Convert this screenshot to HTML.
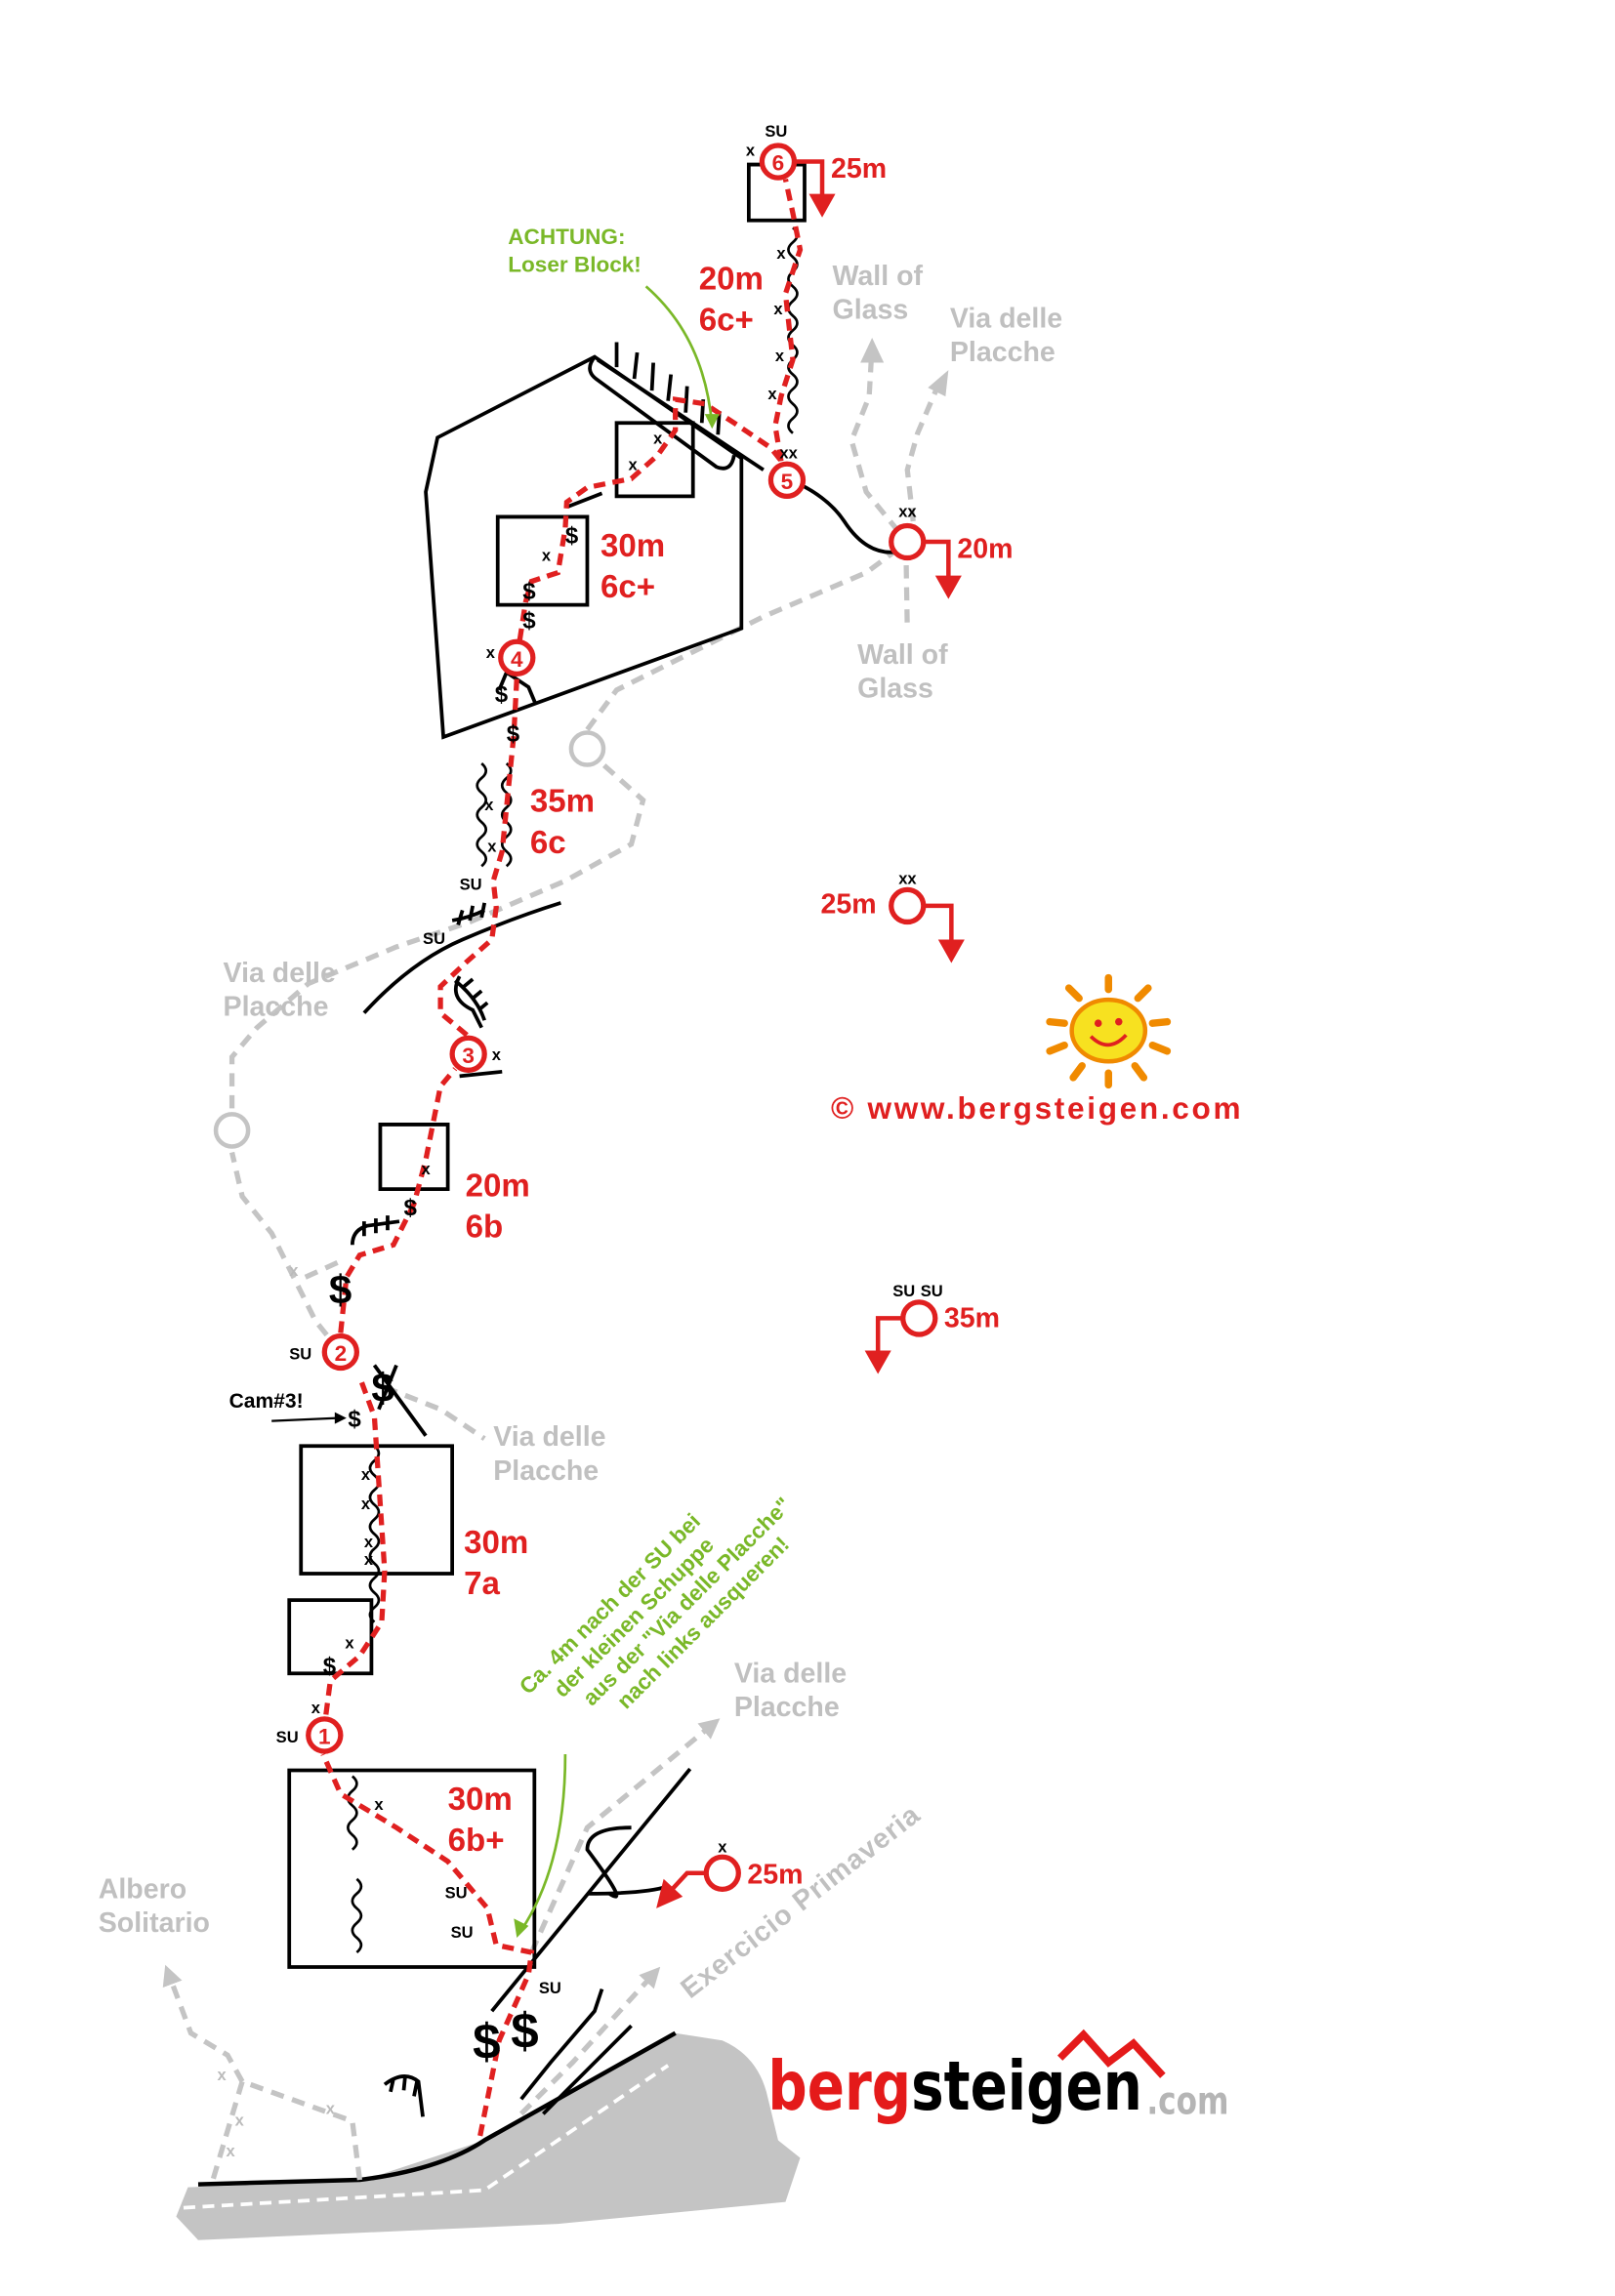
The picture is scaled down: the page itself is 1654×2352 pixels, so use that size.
<!DOCTYPE html>
<html><head><meta charset="utf-8"><style>
html,body{margin:0;padding:0;background:#fff;}
svg{display:block;}
text{font-family:"Liberation Sans",sans-serif;font-weight:bold;}
.r{fill:#e02020;}
.g{fill:#c0c0c0;}
.k{fill:#000;}
</style></head><body>
<svg width="1654" height="2352" viewBox="0 0 1100 1564" xmlns="http://www.w3.org/2000/svg">
<defs>
<marker id="ga" viewBox="0 0 10 10" refX="5" refY="5" markerWidth="4" markerHeight="4" orient="auto"><path d="M0,0 L10,5 L0,10 z" fill="#c4c4c4"/></marker>
</defs>
<!-- ground -->
<path d="M128,1490 L245,1486 L330,1458 L460,1385 L492,1390 Q515,1400 522,1425 L530,1458 L545,1470 L535,1500 L380,1515 L135,1526 L120,1510 Z" fill="#c4c4c4"/>
<path d="M135,1488 L245,1485 Q300,1478 330,1458 L460,1385" fill="none" stroke="#000" stroke-width="3"/>
<path d="M125,1504 L330,1492 L455,1407" fill="none" stroke="#fff" stroke-width="2.5" stroke-dasharray="8,5"/>

<!-- gray dashed routes -->
<g fill="none" stroke="#c4c4c4" stroke-width="3.5" stroke-dasharray="9,6">
<path d="M245,1485 L240,1445 L165,1418 L145,1485"/>
<path d="M165,1418 L155,1400 L130,1385 L115,1345" marker-end="url(#ga)"/>
<path d="M355,1440 L390,1405 L445,1345" marker-end="url(#ga)"/>
<path d="M362,1330 L400,1245 L485,1175" marker-end="url(#ga)"/>
<path d="M232,921 L215,900 L200,870 L185,840 L165,815 L158,785"/>
<path d="M158,755 L158,720 L175,700 L210,670 L270,645 L320,628 L385,600 L430,575 L438,545 L410,520"/>
<path d="M400,497 L420,470 L520,420 L590,390 L617,370"/>
<path d="M617,370 L618,430"/>
<path d="M612,362 L590,335 L580,300 L592,270 L594,235"/>
<path d="M622,355 L618,320 L625,295 L640,260"/>
<path d="M262,945 L300,960 L330,980"/>
<path d="M208,870 L230,860"/>
</g>
<polygon points="594,230 586,247 602,247" fill="#c4c4c4"/>
<polygon points="646,252 632,264 644,270" fill="#c4c4c4"/>
<circle cx="158" cy="770" r="11" fill="#fff" stroke="#c4c4c4" stroke-width="3"/>
<circle cx="400" cy="510" r="11" fill="#fff" stroke="#c4c4c4" stroke-width="3"/>

<!-- black rock features -->
<g fill="none" stroke="#000" stroke-width="2.5">
<path d="M298,298 L405,243 L505,312 L505,428 L302,502 L290,335 Z"/>
<path d="M405,243 Q398,252 406,258 L488,318 Q498,322 500,310 M420,250 L420,233 M432,258 L434,240 M444,266 L445,247 M455,273 L457,255 M467,281 L468,263 M478,288 L479,272 M489,296 L490,280"/>
<path d="M407,245 L520,320 M545,330 Q565,340 575,355 Q590,378 610,376"/>
<path d="M420,288 L472,288 L472,338 L420,338 Z"/>
<path d="M339,352 L400,352 L400,412 L339,412 Z"/>
<path d="M387,345 L410,336"/>
<path d="M510,112 L548,112 L548,150 L510,150 Z"/>
<path d="M259,766 L305,766 L305,810 L259,810 Z"/>
<path d="M205,985 L308,985 L308,1072 L205,1072 Z"/>
<path d="M197,1090 L253,1090 L253,1140 L197,1140 Z"/>
<path d="M197,1206 L364,1206 L364,1340 L197,1340 Z"/>
<path d="M248,690 Q280,655 315,640 Q350,625 382,615"/>
<path d="M313,733 L342,730 M313,665 Q305,680 322,688 L328,700"/>
<path d="M240,848 Q240,838 250,835 L272,832 M248,842 L248,832 M256,840 L256,830 M264,838 L264,828"/>
<path d="M340,470 L345,458 L360,468 L365,480"/>
<path d="M255,930 L290,978 M270,930 L258,960"/>
<path d="M335,1370 L470,1205 M400,1290 Q440,1290 455,1285 M430,1245 Q400,1245 400,1260 Q430,1300 415,1290"/>
<path d="M355,1430 L375,1405 L405,1370 L410,1355 M370,1440 L390,1420 L430,1380"/>
<path d="M262,1420 Q275,1410 285,1418 L288,1442 M268,1416 L266,1425 M276,1414 L275,1424 M284,1418 L282,1428"/>
<path d="M308,627 Q320,625 330,620 M312,630 L315,620 M320,627 L322,617 M328,625 L330,615"/>
<path d="M310,668 Q325,680 330,695 M316,672 L322,667 M322,680 L328,675 M326,688 L332,683"/>
</g>
<!-- wavy lines -->
<g fill="none" stroke="#000" stroke-width="1.8">
<path d="M540,155 q6,5 0,10 t0,10 t0,10 t0,10 t0,10 t0,10 t0,10 t0,10 t0,10 t0,10 t0,10 t0,10 t0,10 t0,10"/>
<path d="M328,520 q6,5 0,10 t0,10 t0,10 t0,10 t0,10 t0,10 t0,10"/>
<path d="M345,520 q6,5 0,10 t0,10 t0,10 t0,10 t0,10 t0,10 t0,10"/>
<path d="M255,985 q6,5 0,10 t0,10 t0,10 t0,10 t0,10 t0,10 t0,10 t0,10 t0,10 t0,10 t0,10 t0,10"/>
<path d="M240,1210 q6,5 0,10 t0,10 t0,10 t0,10 t0,10"/>
<path d="M243,1280 q6,5 0,10 t0,10 t0,10 t0,10 t0,10"/>
</g>

<!-- red route -->
<path d="M327,1455 L340,1390 L360,1345 L362,1330 L338,1325 L332,1300 L305,1268 L270,1245 L232,1222 L220,1195 M222,1168 L225,1145 L245,1128 L260,1105 L262,1070 L258,1010 L255,965 L245,938 M232,908 L236,870 L245,855 L268,848 L282,820 L290,790 L296,760 L300,740 L310,728 M318,705 L300,690 L300,672 L318,655 L335,640 L338,618 L336,600 L342,580 L346,540 L350,500 L352,462 M354,436 L358,410 L362,396 L380,390 L385,360 L386,342 L400,332 L430,326 L448,310 L460,293 L460,272 L480,275 L500,288 L525,305 L533,315 M532,314 L528,290 L532,270 L540,245 L535,200 L545,170 L540,145 L535,122" fill="none" stroke="#e02020" stroke-width="3.5" stroke-dasharray="8,5"/>

<!-- anchors -->
<g fill="#fff" stroke="#e02020" stroke-width="3.5">
<circle cx="221" cy="1182" r="11"/>
<circle cx="232" cy="921" r="11"/>
<circle cx="319" cy="718" r="11"/>
<circle cx="352" cy="448" r="11"/>
<circle cx="536" cy="327" r="11"/>
<circle cx="530" cy="110" r="11"/>
<circle cx="618" cy="369" r="11"/>
<circle cx="618" cy="617" r="11"/>
<circle cx="626" cy="898" r="11"/>
<circle cx="492" cy="1276" r="11"/>
</g>
<g font-size="15" class="r" text-anchor="middle">
<text x="221" y="1188">1</text><text x="232" y="927">2</text><text x="319" y="724">3</text><text x="352" y="454">4</text><text x="536" y="333">5</text><text x="530" y="116">6</text>
</g>
<!-- rappel arrows -->
<g fill="none" stroke="#e02020" stroke-width="3">
<path d="M541,110 L560,110 L560,135"/>
<path d="M629,369 L646,369 L646,395"/>
<path d="M629,617 L648,617 L648,643"/>
<path d="M615,898 L598,898 L598,923"/>
<path d="M481,1276 L468,1276 L455,1290"/>
</g>
<g fill="#e02020">
<polygon points="551,132 569,132 560,148"/>
<polygon points="637,392 655,392 646,408"/>
<polygon points="639,640 657,640 648,656"/>
<polygon points="589,920 607,920 598,936"/>
<polygon points="447,1300 452,1280 465,1292"/>
</g>

<!-- red labels -->
<g class="r" font-size="22">
<text x="566" y="121" font-size="19">25m</text>
<text x="476" y="197">20m</text><text x="476" y="225">6c+</text>
<text x="409" y="379">30m</text><text x="409" y="407">6c+</text>
<text x="652" y="380" font-size="19">20m</text>
<text x="361" y="553">35m</text><text x="361" y="581">6c</text>
<text x="559" y="622" font-size="19">25m</text>
<text x="317" y="815">20m</text><text x="317" y="843">6b</text>
<text x="643" y="904" font-size="19">35m</text>
<text x="316" y="1058">30m</text><text x="316" y="1086">7a</text>
<text x="305" y="1233">30m</text><text x="305" y="1261">6b+</text>
<text x="509" y="1283" font-size="19">25m</text>
<text x="566" y="762" font-size="21" textLength="279" lengthAdjust="spacing">©  www.bergsteigen.com</text>
</g>
<!-- gray labels -->
<g class="g" font-size="19">
<text x="567" y="194">Wall of</text><text x="567" y="217">Glass</text>
<text x="647" y="223">Via delle</text><text x="647" y="246">Placche</text>
<text x="584" y="452">Wall of</text><text x="584" y="475">Glass</text>
<text x="152" y="669">Via delle</text><text x="152" y="692">Placche</text>
<text x="336" y="985">Via delle</text><text x="336" y="1008">Placche</text>
<text x="500" y="1146">Via delle</text><text x="500" y="1169">Placche</text>
<text x="67" y="1293">Albero</text><text x="67" y="1316">Solitario</text>
<text x="470" y="1362" transform="rotate(-38 470 1362)" textLength="200">Exercicio Primaveria</text>
</g>
<!-- green -->
<g fill="#7ab828" font-size="15">
<text x="346" y="166">ACHTUNG:</text><text x="346" y="185">Loser Block!</text>
<g transform="rotate(-45 360 1155)">
<text x="360" y="1155">Ca. 4m nach der SU bei</text>
<text x="375" y="1173">der kleinen Schuppe</text>
<text x="385" y="1191">aus der "Via delle Placche"</text>
<text x="400" y="1209">nach links ausqueren!</text>
</g>
</g>
<path d="M440,195 Q480,230 485,290" fill="none" stroke="#7ab828" stroke-width="1.8"/>
<path d="M385,1195 Q385,1270 355,1315" fill="none" stroke="#7ab828" stroke-width="1.8"/>
<polygon points="480,282 490,282 485,292" fill="#7ab828"/>
<polygon points="350,1307 360,1312 352,1320" fill="#7ab828"/>

<!-- black small labels -->
<g class="k" font-size="11">
<text x="521" y="93">SU</text><text x="508" y="106">x</text>
<text x="529" y="176">x</text><text x="527" y="214">x</text><text x="528" y="246">x</text><text x="523" y="272">x</text>
<text x="531" y="312">xx</text><text x="612" y="352">xx</text><text x="612" y="602">xx</text>
<text x="445" y="302">x</text><text x="428" y="320">x</text><text x="369" y="382">x</text>
<text x="331" y="448">x</text><text x="330" y="552">x</text><text x="332" y="580">x</text>
<text x="313" y="606">SU</text><text x="288" y="643">SU</text>
<text x="335" y="722">x</text><text x="287" y="800">x</text><text x="197" y="869" fill="#bbb">x</text>
<text x="197" y="926">SU</text>
<text x="246" y="1008">x</text><text x="246" y="1028">x</text><text x="248" y="1054">x</text><text x="248" y="1066">x</text>
<text x="235" y="1123">x</text><text x="212" y="1167">x</text><text x="188" y="1187">SU</text>
<text x="255" y="1233">x</text><text x="303" y="1293">SU</text><text x="307" y="1320">SU</text>
<text x="367" y="1358">SU</text><text x="489" y="1262">x</text>
<text x="608" y="883">SU</text><text x="627" y="883">SU</text>
<text x="156" y="959" font-size="14">Cam#3!</text>
</g>
<g fill="#bbb" font-size="11"><text x="148" y="1417">x</text><text x="160" y="1448">x</text><text x="154" y="1469">x</text><text x="222" y="1440">x</text></g>
<path d="M185,968 L230,966" stroke="#000" stroke-width="1.5"/><polygon points="228,962 236,966 228,970"/>
<g font-size="16" class="k" style="font-weight:normal">
<text x="237" y="972">$</text><text x="337" y="478">$</text><text x="345" y="505">$</text>
<text x="356" y="408">$</text><text x="356" y="428">$</text><text x="385" y="370">$</text>
<text x="275" y="828">$</text><text x="220" y="1140">$</text>
</g>
<g font-size="34" class="k" style="font-weight:normal"><text x="322" y="1402">$</text><text x="348" y="1395">$</text><text x="224" y="888" font-size="28">$</text><text x="253" y="955" font-size="28">$</text></g>

<!-- sun -->
<g transform="translate(755,702)">
<g stroke="#f08a00" stroke-width="5" stroke-linecap="round">
<line x1="0" y1="-28" x2="0" y2="-36"/><line x1="20" y1="-22" x2="27" y2="-29"/><line x1="30" y1="-5" x2="40" y2="-6"/><line x1="30" y1="10" x2="40" y2="14"/><line x1="18" y1="24" x2="24" y2="32"/><line x1="0" y1="29" x2="0" y2="37"/><line x1="-18" y1="24" x2="-24" y2="32"/><line x1="-30" y1="10" x2="-40" y2="14"/><line x1="-30" y1="-5" x2="-40" y2="-6"/><line x1="-20" y1="-22" x2="-27" y2="-29"/>
</g>
<ellipse cx="0" cy="0" rx="25" ry="21" fill="#f7e120" stroke="#f08a00" stroke-width="3"/>
<circle cx="-7" cy="-5" r="2.5" fill="#e02020"/><circle cx="7" cy="-6" r="2.5" fill="#e02020"/>
<path d="M-12,4 Q0,16 12,3" fill="none" stroke="#e02020" stroke-width="2.5"/>
</g>

<!-- logo -->
<path d="M722,1402 L738,1386 L755,1405 L772,1392 L792,1414" fill="none" stroke="#e41a1a" stroke-width="5"/>
<text x="523" y="1437" font-size="46" textLength="255" lengthAdjust="spacingAndGlyphs" style="font-family:'DejaVu Sans','Liberation Sans',sans-serif;font-weight:bold"><tspan fill="#e41a1a">berg</tspan><tspan fill="#000">steigen</tspan></text>
<text x="781" y="1440" font-size="26" fill="#b5b5b5" textLength="56" lengthAdjust="spacingAndGlyphs" style="font-family:'DejaVu Sans','Liberation Sans',sans-serif;font-weight:bold">.com</text>
</svg>
</body></html>
